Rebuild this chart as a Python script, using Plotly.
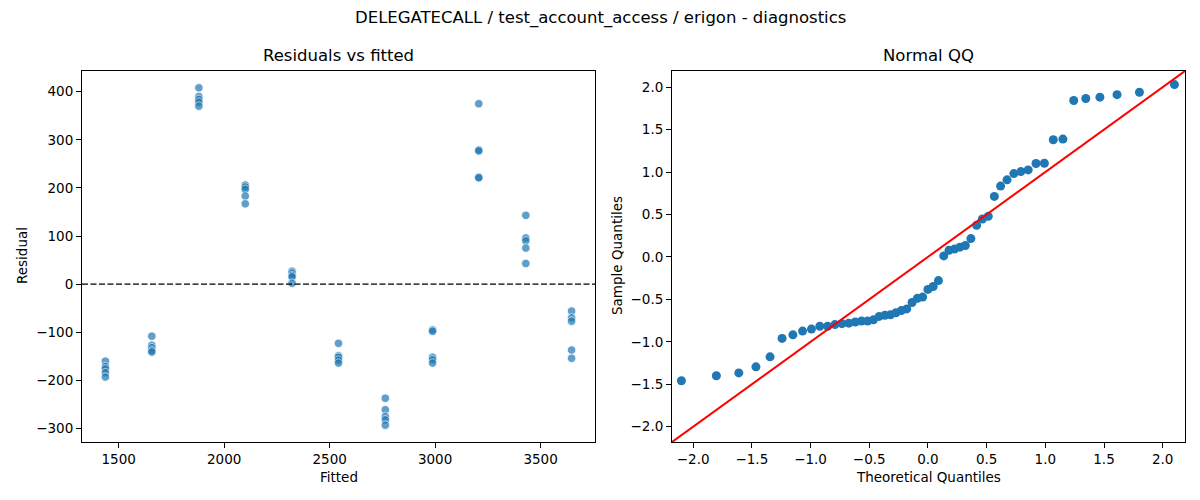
import plotly.graph_objects as go
from plotly.subplots import make_subplots

# Residuals vs fitted (11 fitted levels, 5 runs each)
fitted = [1437] * 5 + [1657] * 5 + [1880] * 5 + [2100] * 5 + [2322] * 5 + [2542] * 5 \
    + [2764] * 5 + [2988] * 5 + [3207] * 5 + [3430] * 5 + [3647] * 5
residual = [-160, -171, -176, -184, -193,
            -108, -127, -132, -138, -141,
            408, 390, 384, 378, 370,
            206, 202, 197, 183, 167,
            27, 23, 18, 15, 2,
            -123, -149, -152, -158, -164,
            -237, -261, -275, -282, -293,
            -95, -98, -152, -157, -164,
            375, 279, 277, 222, 221,
            143, 96, 90, 75, 43,
            -56, -70, -77, -137, -154]

# Normal QQ points
theoretical_q = [-2.100, -1.802, -1.611, -1.465, -1.345, -1.242, -1.150, -1.068, -0.992, -0.921,
                 -0.854, -0.792, -0.732, -0.674, -0.619, -0.566, -0.514, -0.464, -0.415, -0.366,
                 -0.319, -0.272, -0.226, -0.180, -0.135, -0.090, -0.045, 0.000, 0.045, 0.090,
                 0.135, 0.180, 0.226, 0.272, 0.319, 0.366, 0.415, 0.464, 0.514, 0.566,
                 0.619, 0.674, 0.732, 0.792, 0.854, 0.921, 0.992, 1.068, 1.150, 1.242,
                 1.345, 1.465, 1.611, 1.802, 2.100]
sample_q = [-1.458, -1.400, -1.366, -1.295, -1.177, -0.960, -0.918, -0.874, -0.850, -0.817,
            -0.816, -0.797, -0.786, -0.780, -0.767, -0.756, -0.755, -0.741, -0.701, -0.687,
            -0.682, -0.657, -0.632, -0.612, -0.537, -0.488, -0.473, -0.383, -0.348, -0.279,
            0.012, 0.078, 0.092, 0.115, 0.134, 0.216, 0.372, 0.447, 0.478, 0.713,
            0.834, 0.908, 0.982, 1.005, 1.025, 1.100, 1.104, 1.380, 1.388, 1.843,
            1.866, 1.882, 1.911, 1.940, 2.030]
qq_lims = [-2.18, 2.19]

FONT = "DejaVu Sans"
# the page body has an 8px margin, so the figure is a bit smaller and every
# position below is given in screen pixels minus that offset
OFF = 8
W, H = 1200 - OFF, 500 - OFF

def px(x):
    return (x - OFF) / W

def py(y):
    return 1 - (y - OFF) / H

fig = make_subplots(rows=1, cols=2)

fig.add_trace(go.Scatter(x=fitted, y=residual, mode="markers",
                         marker=dict(color="#1f77b4", size=8.5, opacity=0.7,
                                     line=dict(color="white", width=0.8)),
                         showlegend=False), row=1, col=1)

fig.add_trace(go.Scatter(x=theoretical_q, y=sample_q, mode="markers",
                         marker=dict(color="#1f77b4", size=9),
                         showlegend=False), row=1, col=2)
# 45 degree reference line
fig.add_trace(go.Scatter(x=qq_lims, y=qq_lims, mode="lines",
                         line=dict(color="red", width=2),
                         showlegend=False), row=1, col=2)

# zero line on the residual plot
fig.add_shape(type="line", xref="x domain", yref="y", x0=0, x1=1, y0=0, y1=0,
              line=dict(color="black", width=1.2, dash="6px,2.5px"))

axis_style = dict(showgrid=False, zeroline=False, showline=True, mirror=True,
                  linecolor="black", linewidth=1, ticks="outside", ticklen=5,
                  tickwidth=1, tickcolor="black",
                  tickfont=dict(family=FONT, size=13.5, color="black"))

ytop, ybot = 71, 442
fig.update_xaxes(axis_style)
fig.update_yaxes(axis_style)
fig.update_xaxes(domain=[px(82), px(595)], range=[1326, 3758], dtick=500, row=1, col=1)
fig.update_yaxes(domain=[py(ybot), py(ytop)], range=[-328, 443], dtick=100, row=1, col=1)
fig.update_xaxes(domain=[px(672), px(1185)], range=qq_lims, dtick=0.5, tickformat=".1f", row=1, col=2)
fig.update_yaxes(domain=[py(ybot), py(ytop)], range=qq_lims, dtick=0.5, tickformat=".1f", row=1, col=2)

def label(text, x, y, size=13.5, angle=0):
    fig.add_annotation(text=text, x=px(x), y=py(y), xref="paper", yref="paper",
                       showarrow=False, textangle=angle, xanchor="center", yanchor="middle",
                       font=dict(family=FONT, size=size, color="black"))

label("DELEGATECALL / test_account_access / erigon - diagnostics", 600, 18, size=16.5)
label("Residuals vs fitted", 338.5, 56, size=16.5)
label("Normal QQ", 928.5, 56, size=16.5)
label("Fitted", 338.5, 477)
label("Theoretical Quantiles", 928.5, 477)
label("Residual", 22, 256, angle=-90)
label("Sample Quantiles", 617, 256, angle=-90)

fig.update_layout(width=W, height=H, margin=dict(l=0, r=0, t=0, b=0),
                  plot_bgcolor="white", paper_bgcolor="white",
                  font=dict(family=FONT, color="black"))

fig.write_html("out.html")
